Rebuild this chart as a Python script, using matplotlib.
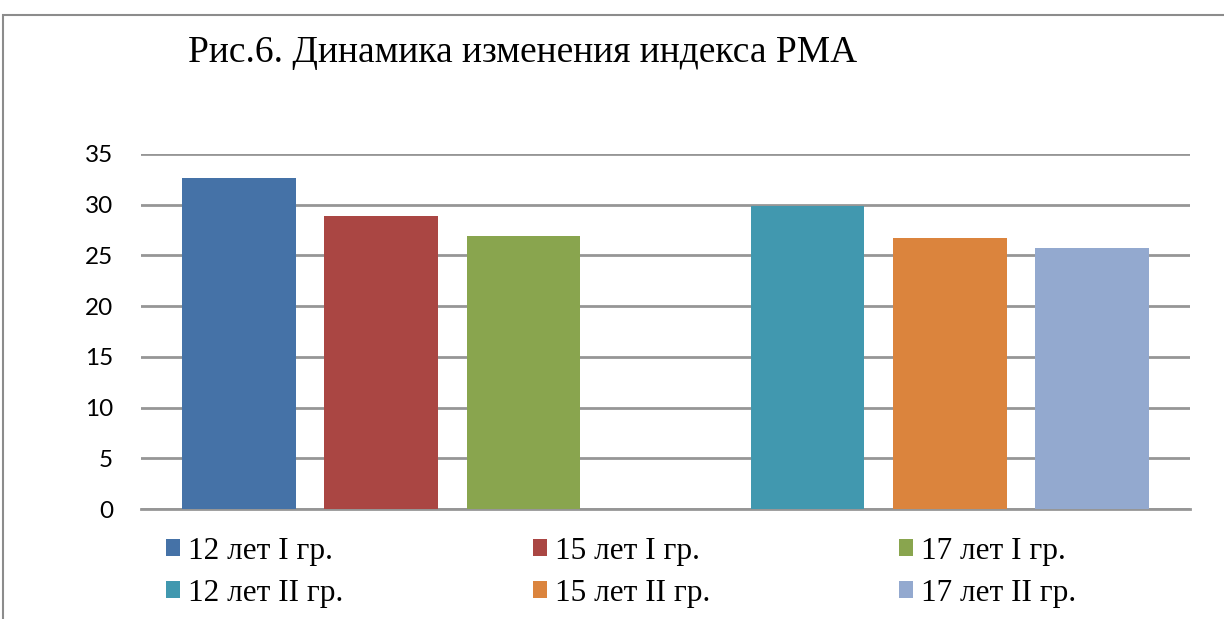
import matplotlib
matplotlib.use('Agg')
import matplotlib.pyplot as plt
from matplotlib.patches import Rectangle

# values
series = ['12 лет I гр.', '15 лет I гр.', '17 лет I гр.',
          '12 лет II гр.', '15 лет II гр.', '17 лет II гр.']
values = [32.6, 28.9, 26.9, 29.9, 26.7, 25.7]
group = [0, 0, 0, 1, 1, 1]
colors = ['#4572A7', '#AA4643', '#89A54E', '#4198AF', '#DB843D', '#93A9CF']
yticks = [0, 5, 10, 15, 20, 25, 30, 35]
title = 'Рис.6. Динамика изменения индекса РМА'

fig = plt.figure(figsize=(12.24, 6.19), dpi=100)
ax = fig.add_axes([141 / 1224, 1 - 509 / 619, (1190 - 141) / 1224, (509 - 154) / 619])

# one empty slot between the two groups, like in the source
pos = [g * 4 + i % 3 for i, g in enumerate(group)]
bars = []
for p, v, c, lab in zip(pos, values, colors, series):
    bars.append(ax.bar(p, v, width=0.8, color=c, label=lab, zorder=3))

ax.set_xlim(-0.69, 6.69)
ax.set_ylim(0, 35)
ax.set_yticks(yticks)
ax.set_xticks([])
ax.yaxis.grid(True, color='#969696', linewidth=2, zorder=0)
for s in ['top', 'right', 'left']:
    ax.spines[s].set_visible(False)
ax.spines['bottom'].set_color('#969696')
ax.spines['bottom'].set_linewidth(2)
ax.tick_params(axis='y', length=0, pad=20, labelsize=17.5)
for t in ax.get_yticklabels():
    t.set_family('Lato')

fig.text(188 / 1224, 1 - 62 / 619, title, family='Liberation Serif',
         fontsize=27, va='baseline', ha='left')

# legend: 2 rows x 3 columns, filled row-wise
order = [0, 3, 1, 4, 2, 5]
leg = fig.legend([bars[i] for i in order], [series[i] for i in order],
                 ncol=3, loc='upper left', bbox_to_anchor=(166 / 1224, 1 - 537 / 619),
                 frameon=False, prop={'family': 'Liberation Serif', 'size': 22.5},
                 handlelength=0.46, handleheight=0.46, handletextpad=0.25,
                 columnspacing=6.05, labelspacing=0.4, borderpad=0, borderaxespad=0)

fig.patches.append(Rectangle((3 / 1224, -0.1), 1.1, 1 - 15 / 619 + 0.1,
                             transform=fig.transFigure, fill=False,
                             edgecolor='#8c8c8c', linewidth=1.5))

plt.savefig('out.png', dpi=100)
